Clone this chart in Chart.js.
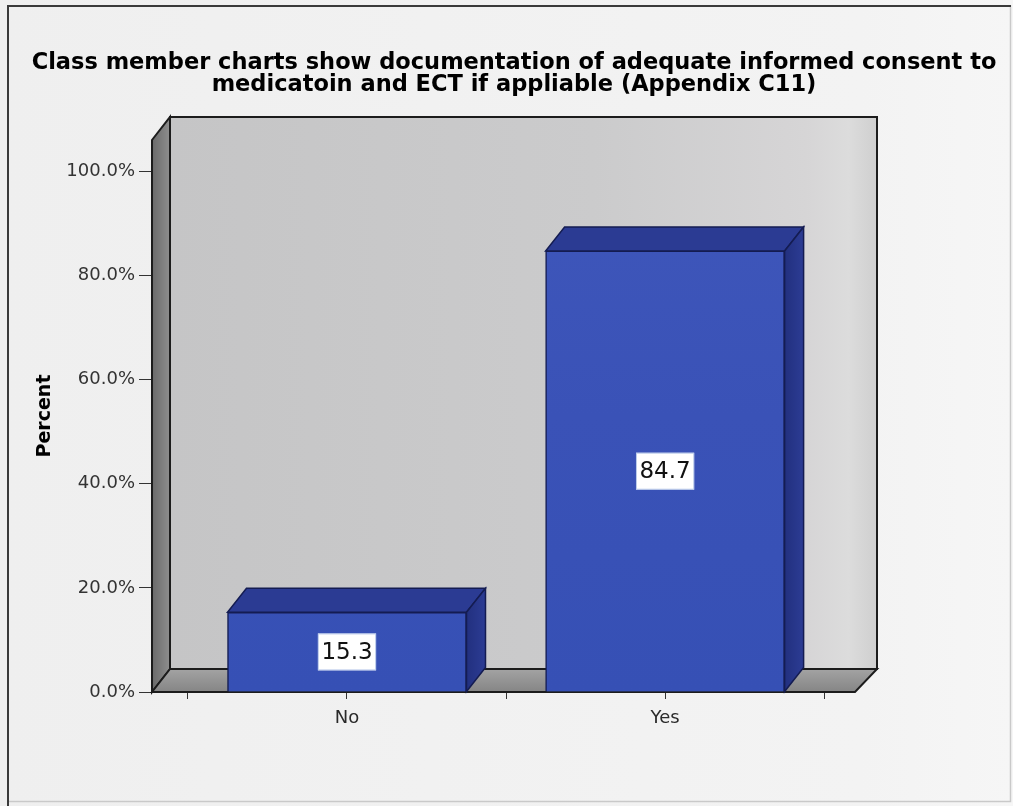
<!DOCTYPE html>
<html>
<head>
<meta charset="utf-8">
<script src="https://cdn.jsdelivr.net/npm/chart.js@4.4.1/dist/chart.umd.min.js"></script>
<style>
  html, body { margin: 0; padding: 0; background: #f2f2f2; }
  #wrap { width: 1013px; height: 806px; }
</style>
</head>
<body>
<div id="wrap"><canvas id="c" width="1013" height="806"></canvas></div>
<script>
// Chart content
const titleLines = [
  'Class member charts show documentation of adequate informed consent to',
  'medicatoin and ECT if appliable (Appendix C11)'
];
const yAxisTitle = 'Percent';
const categories = ['No', 'Yes'];
const percentValues = [15.3, 84.7];
const yTickValues = [0, 20, 40, 60, 80, 100];

// Depth of the 3D box (front plane = chart area)
const WALL = { dxL: 18, dxR: 22, dy: -23 };
const BAR_DEPTH = { dx: 19, dy: -24 };

const FONT = 'DejaVu Sans';

const points = percentValues.map((v, i) => ({ x: i, y: v }));

// Category centres and the boundaries between them
const xTickValues = [];
categories.forEach((c, i) => {
  if (i === 0) xTickValues.push(i - 0.5);
  xTickValues.push(i, i + 0.5);
});

function poly(ctx, pts, fill, stroke, lw) {
  ctx.beginPath();
  ctx.moveTo(pts[0][0], pts[0][1]);
  for (let i = 1; i < pts.length; i++) ctx.lineTo(pts[i][0], pts[i][1]);
  ctx.closePath();
  if (fill) { ctx.fillStyle = fill; ctx.fill(); }
  if (stroke) { ctx.strokeStyle = stroke; ctx.lineWidth = lw || 1; ctx.stroke(); }
}

const backgroundPlugin = {
  id: 'panelBackground',
  beforeDraw(chart) {
    const { ctx, width, height } = chart;
    ctx.save();
    const g = ctx.createLinearGradient(0, 0, width, 0);
    g.addColorStop(0, '#efefef');
    g.addColorStop(0.85, '#f3f3f3');
    g.addColorStop(1, '#f6f6f6');
    ctx.fillStyle = g;
    ctx.fillRect(0, 0, width, height);
    // panel frame
    ctx.strokeStyle = '#c9c9c9';
    ctx.lineWidth = 1.5;
    ctx.beginPath();
    ctx.moveTo(1010.5, 5); ctx.lineTo(1010.5, 801.5); ctx.lineTo(8, 801.5);
    ctx.stroke();
    ctx.strokeStyle = '#3a3a3a';
    ctx.lineWidth = 2;
    ctx.beginPath();
    ctx.moveTo(8, 806); ctx.lineTo(8, 6); ctx.lineTo(1011, 6);
    ctx.stroke();
    ctx.restore();
  }
};

const boxPlugin = {
  id: 'box3d',
  beforeDatasetsDraw(chart) {
    const { ctx, chartArea: a } = chart;
    const b = { l: a.left + WALL.dxL, r: a.right + WALL.dxR, t: a.top + WALL.dy, bt: a.bottom + WALL.dy };
    ctx.save();
    // back wall
    const gw = ctx.createLinearGradient(b.l, 0, b.r, 0);
    gw.addColorStop(0, '#c5c5c6');
    gw.addColorStop(0.6, '#cbcbcc');
    gw.addColorStop(0.9, '#d6d5d6');
    gw.addColorStop(0.96, '#dcdcdc');
    gw.addColorStop(1, '#cfcfcf');
    poly(ctx, [[b.l, b.t], [b.r, b.t], [b.r, b.bt], [b.l, b.bt]], gw, '#1c1c1c', 2);
    // left wall
    const gl = ctx.createLinearGradient(a.left, 0, b.l, 0);
    gl.addColorStop(0, '#6a6a6a');
    gl.addColorStop(1, '#8e8e8e');
    poly(ctx, [[a.left, a.top], [b.l, b.t], [b.l, b.bt], [a.left, a.bottom]], gl, '#1c1c1c', 2);
    // floor
    const gf = ctx.createLinearGradient(0, a.bottom, 0, b.bt);
    gf.addColorStop(0, '#858585');
    gf.addColorStop(1, '#a3a3a3');
    poly(ctx, [[a.left, a.bottom], [a.right, a.bottom], [b.r, b.bt], [b.l, b.bt]], gf, '#1c1c1c', 2);
    ctx.restore();
  },
  afterDatasetsDraw(chart) {
    const { ctx } = chart;
    const meta = chart.getDatasetMeta(0);
    ctx.save();
    meta.data.forEach((bar, i) => {
      const p = bar.getProps(['x', 'y', 'base', 'width']);
      const l = p.x - p.width / 2, r = p.x + p.width / 2;
      const top = p.y, base = p.base;
      const dx = BAR_DEPTH.dx, dy = BAR_DEPTH.dy;
      // top face
      poly(ctx, [[l, top], [r, top], [r + dx, top + dy], [l + dx, top + dy]], '#2b3b93', '#141c52', 1.5);
      // right side face
      const gs = ctx.createLinearGradient(r, 0, r + dx, 0);
      gs.addColorStop(0, '#22307f');
      gs.addColorStop(1, '#2c3c94');
      poly(ctx, [[r, top], [r + dx, top + dy], [r + dx, base + dy], [r, base]], gs, '#141c52', 1.5);
      // value label
      const txt = percentValues[i].toFixed(1);
      ctx.font = '23px "' + FONT + '"';
      const tw = ctx.measureText(txt).width;
      const cy = (top + base) / 2;
      const bw = tw + 7, bh = 37;
      ctx.fillStyle = '#ffffff';
      ctx.fillRect(p.x - bw / 2, cy - bh / 2, bw, bh);
      ctx.strokeStyle = 'rgba(170,190,230,0.8)';
      ctx.lineWidth = 1;
      ctx.strokeRect(p.x - bw / 2 + 0.5, cy - bh / 2 + 0.5, bw - 1, bh - 1);
      ctx.fillStyle = '#111111';
      ctx.textAlign = 'center';
      ctx.textBaseline = 'middle';
      ctx.fillText(txt, p.x, cy + 1);
    });
    ctx.restore();
  }
};

new Chart(document.getElementById('c'), {
  type: 'bar',
  data: {
    datasets: [{
      data: points,
      backgroundColor: (c) => {
        const { ctx, chartArea } = c.chart;
        if (!chartArea) return '#3b53b8';
        const g = ctx.createLinearGradient(0, chartArea.top, 0, chartArea.bottom);
        g.addColorStop(0, '#3f57bb');
        g.addColorStop(0.5, '#3a52b7');
        g.addColorStop(1, '#3650b5');
        return g;
      },
      borderColor: '#141c52',
      borderWidth: 1.5,
      barThickness: 239
    }]
  },
  plugins: [backgroundPlugin, boxPlugin],
  options: {
    responsive: false,
    animation: false,
    devicePixelRatio: 1,
    layout: { padding: { left: 15, right: 0, top: 0, bottom: 0 } },
    plugins: {
      legend: { display: false },
      tooltip: { enabled: false },
      title: {
        display: true,
        text: titleLines,
        color: '#000000',
        font: { family: FONT, size: 22.5, weight: 'bold', lineHeight: '22px' },
        padding: { top: 52, bottom: 44 }
      }
    },
    scales: {
      x: {
        type: 'linear',
        min: -0.613,
        max: 1.597,
        offset: false,
        afterBuildTicks: (s) => { s.ticks = xTickValues.map(v => ({ value: v })); },
        afterFit: (s) => { s.height = 114; },
        ticks: {
          autoSkip: false,
          maxRotation: 0,
          padding: 9,
          color: '#2a2a2a',
          font: { family: FONT, size: 18 },
          callback: (v) => (Number.isInteger(v) ? categories[v] : '')
        },
        grid: { display: true, offset: false, drawOnChartArea: false, drawTicks: true, tickLength: 7, color: '#333333' },
        border: { display: false }
      },
      y: {
        min: 0,
        max: 106,
        afterBuildTicks: (s) => { s.ticks = yTickValues.map(v => ({ value: v })); },
        afterFit: (s) => { s.width = 137; },
        ticks: {
          padding: 4,
          color: '#333333',
          font: { family: FONT, size: 18 },
          callback: (v) => v.toFixed(1) + '%'
        },
        grid: { drawOnChartArea: false, drawTicks: true, tickLength: 13, color: '#333333' },
        border: { display: false },
        title: {
          display: true,
          text: yAxisTitle,
          color: '#000000',
          font: { family: FONT, size: 19, weight: 'bold' },
          padding: { top: 19, bottom: 0 }
        }
      },
      yRight: {
        position: 'right',
        display: true,
        ticks: { display: false },
        grid: { display: false },
        border: { display: false },
        afterFit: (s) => { s.width = 158; }
      }
    }
  }
});
</script>
</body>
</html>
